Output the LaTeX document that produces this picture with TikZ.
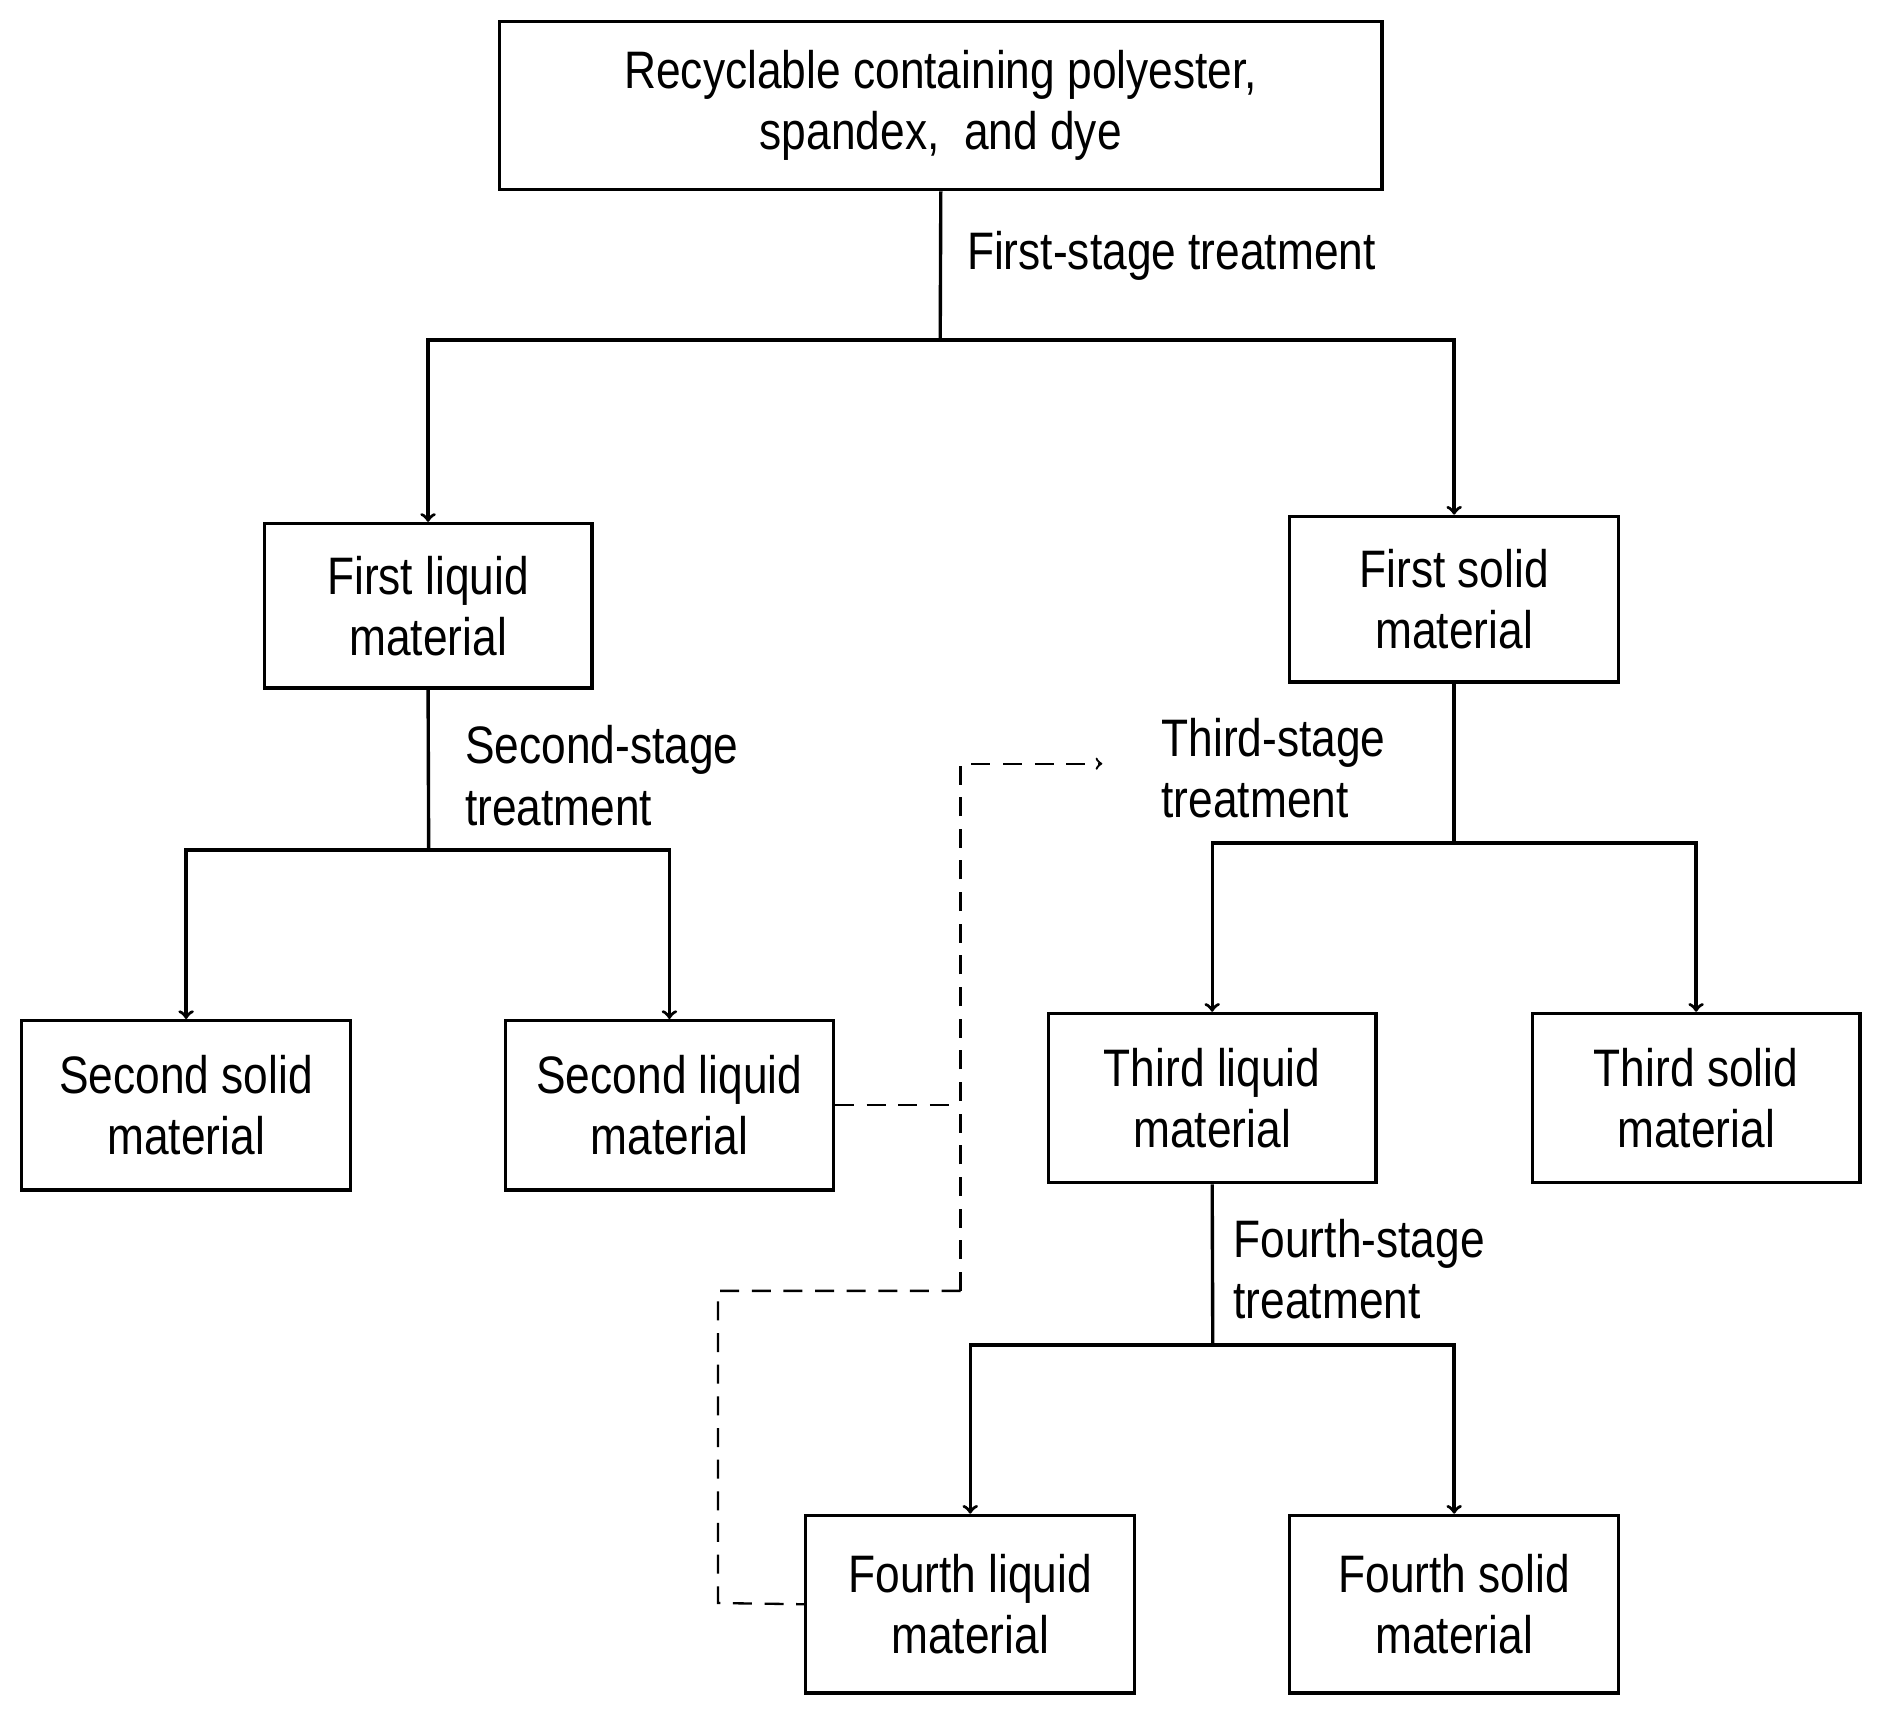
\documentclass[tikz,border=0pt]{standalone}
\usepackage{fontspec}
\setmainfont{Liberation Sans}[FakeStretch=0.84]
\usetikzlibrary{positioning}

\tikzset{
  box/.style={draw, line width=1.6pt, align=center, inner sep=0pt, font=\fontsize{25}{29}\selectfont},
  lbl/.style={right, align=left, inner sep=0pt, font=\fontsize{25}{29}\selectfont},
  link/.style={line width=1.6pt},
  flow/.style={line width=1.6pt, -to},
  back/.style={line width=1.1pt, dash pattern=on 9pt off 6pt}
}

\begin{document}
\begin{tikzpicture}[x=0.02cm, y=-0.02cm]
\useasboundingbox (0,0) rectangle (1564,1427);
% boxes
\node[box, minimum width=14.7cm, minimum height=2.8cm] (rec) at (783.5,88) {Recyclable containing polyester,\\spandex,~ and dye};
\node[box, minimum width=5.46cm, minimum height=2.74cm] (liq1) at (356.5,504.5) {First liquid\\material};
\node[box, minimum width=5.48cm, minimum height=2.76cm] (sol1) at (1211,499) {First solid\\material};
\node[box, minimum width=5.48cm, minimum height=2.82cm] (sol2) at (155,920.5) {Second solid\\material};
\node[box, minimum width=5.46cm, minimum height=2.82cm] (liq2) at (557.5,920.5) {Second liquid\\material};
\node[box, minimum width=5.46cm, minimum height=2.82cm] (liq3) at (1009.5,914.5) {Third liquid\\material};
\node[box, minimum width=5.46cm, minimum height=2.82cm] (sol3) at (1412.5,914.5) {Third solid\\material};
\node[box, minimum width=5.48cm, minimum height=2.96cm] (liq4) at (808,1336) {Fourth liquid\\material};
\node[box, minimum width=5.48cm, minimum height=2.96cm] (sol4) at (1211,1336) {Fourth solid\\material};
% branch points
\coordinate (j1) at (783,283);
\coordinate (j2) at (357,708);
\coordinate (j3) at (1211,702);
\coordinate (j4) at (1010,1120);
% stage labels
\node[lbl] (t1) at (805,213) {First-stage treatment};
\node[lbl] (t2) at (387,646) {Second-stage\\treatment};
\node[lbl] (t3) at (967,640) {Third-stage\\treatment};
\node[lbl] (t4) at (1027,1057) {Fourth-stage\\treatment};
% connectors
\draw[link] (rec.south) -- (j1);
\draw[flow] (j1) -| (liq1.north);
\draw[flow] (j1) -| (sol1.north);
\draw[link] (liq1.south) -- (j2);
\draw[flow] (j2) -| (sol2.north);
\draw[flow] (j2) -| (liq2.north);
\draw[link] (sol1.south) -- (j3);
\draw[flow] (j3) -| (liq3.north);
\draw[flow] (j3) -| (sol3.north);
\draw[link] (liq3.south) -- (j4);
\draw[flow] (j4) -| (liq4.north);
\draw[flow] (j4) -| (sol4.north);
% recycle path
\coordinate (d1) at (800,636);
\coordinate (d2) at (918,636);
\coordinate (d3) at (800,1075);
\coordinate (d4) at (598,1075);
\coordinate (d5) at (598,1335);
\draw[back] (liq2.east) -- (liq2.east -| d1);
\draw[back, -to] (d3) -- (d1) -- (d2);
\draw[back] (d3) -- (d4) -- (d5) -- (liq4.west);
\end{tikzpicture}
\end{document}
